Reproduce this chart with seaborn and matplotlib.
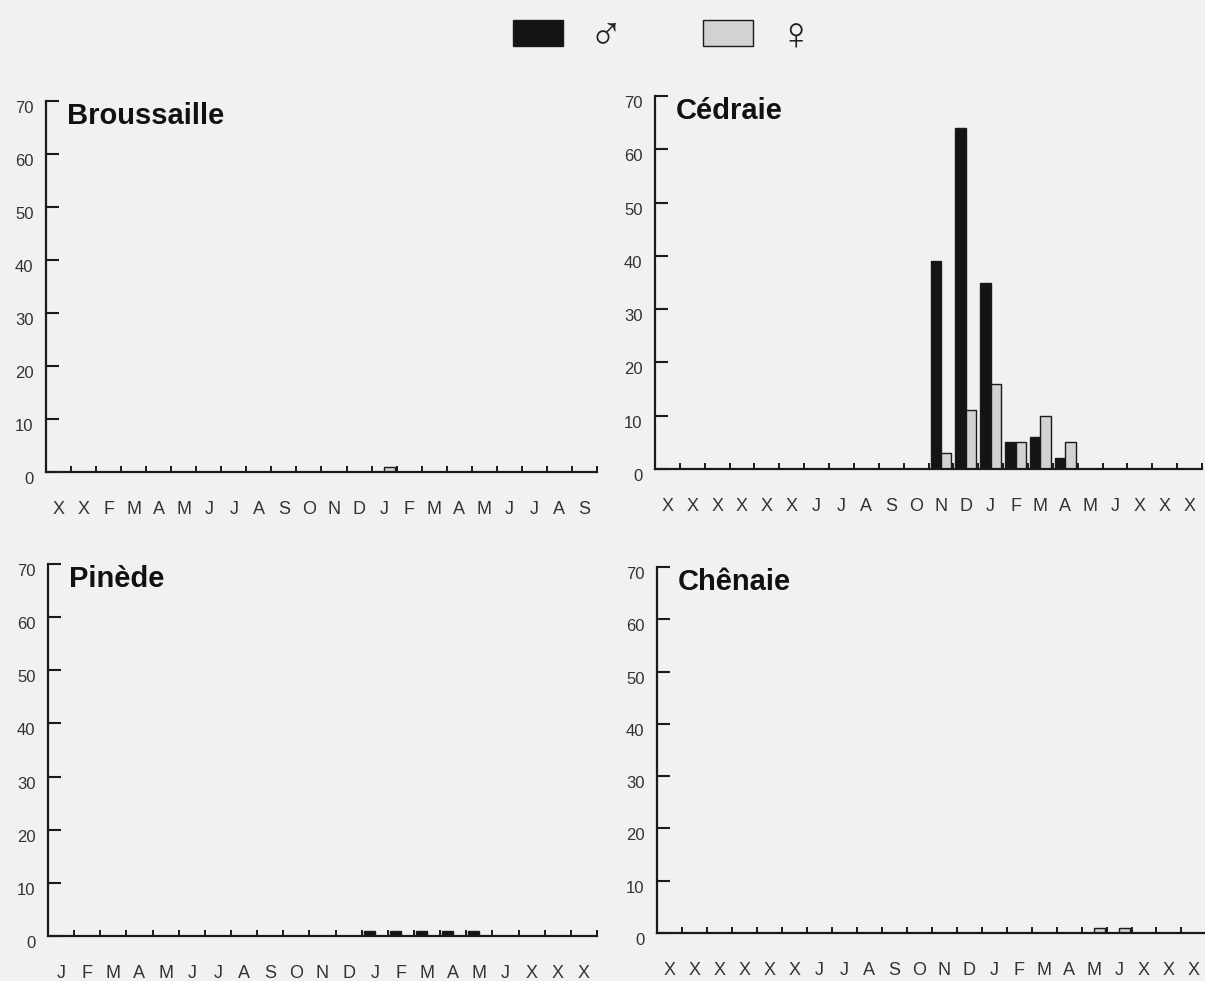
import numpy as np
import pandas as pd
import seaborn as sns
import matplotlib.pyplot as plt
import matplotlib.transforms as mtransforms
from matplotlib.patches import Patch
from matplotlib.ticker import FixedLocator

# month labels under each panel (X = month not sampled)
mois_broussaille = ["X", "X", "F", "M", "A", "M", "J", "J", "A", "S", "O",
                    "N", "D", "J", "F", "M", "A", "M", "J", "J", "A", "S"]
mois_cedraie = ["X", "X", "X", "X", "X", "X", "J", "J", "A", "S", "O",
                "N", "D", "J", "F", "M", "A", "M", "J", "X", "X", "X"]
mois_pinede = ["J", "F", "M", "A", "M", "J", "J", "A", "S", "O", "N",
               "D", "J", "F", "M", "A", "M", "J", "X", "X", "X"]
mois_chenaie = ["X", "X", "X", "X", "X", "X", "J", "J", "A", "S", "O",
                "N", "D", "J", "F", "M", "A", "M", "J", "X", "X", "X"]

# counts per month (males / females)
broussaille_m = [0, 0, 0, 0, 0, 0, 0, 0, 0, 0, 0, 0, 0, 0, 0, 0, 0, 0, 0, 0, 0, 0]
broussaille_f = [0, 0, 0, 0, 0, 0, 0, 0, 0, 0, 0, 0, 0, 1, 0, 0, 0, 0, 0, 0, 0, 0]
cedraie_m = [0, 0, 0, 0, 0, 0, 0, 0, 0, 0, 0, 39, 64, 35, 5, 6, 2, 0, 0, 0, 0, 0]
cedraie_f = [0, 0, 0, 0, 0, 0, 0, 0, 0, 0, 0, 3, 11, 16, 5, 10, 5, 0, 0, 0, 0, 0]
pinede_m = [0, 0, 0, 0, 0, 0, 0, 0, 0, 0, 0, 0, 1, 1, 1, 1, 1, 0, 0, 0, 0]
pinede_f = [0, 0, 0, 0, 0, 0, 0, 0, 0, 0, 0, 0, 0, 0, 0, 0, 0, 0, 0, 0, 0]
chenaie_m = [0, 0, 0, 0, 0, 0, 0, 0, 0, 0, 0, 0, 0, 0, 0, 0, 0, 0, 0, 0, 0, 0]
chenaie_f = [0, 0, 0, 0, 0, 0, 0, 0, 0, 0, 0, 0, 0, 0, 0, 0, 0, 1, 1, 0, 0, 0]

BG = "#f2f1ef"
NOIR = "#141414"
GRIS = "#d2d2d0"
INK = "#1a1a1a"

sns.set_style("ticks")
plt.rcParams["font.family"] = ["Liberation Sans", "DejaVu Sans"]

fig = plt.figure(figsize=(12.05, 9.81), dpi=100, facecolor=BG)


def panel(rect, titre, mois, males, femelles):
    ax = fig.add_axes(rect, facecolor=BG)
    n = len(mois)
    df = pd.DataFrame({
        "mois": list(range(n)) * 2,
        "sexe": ["m"] * n + ["f"] * n,
        "effectif": males + femelles,
    })
    sns.barplot(data=df, x="mois", y="effectif", hue="sexe", hue_order=["m", "f"],
                palette={"m": NOIR, "f": GRIS}, width=0.84, edgecolor=INK,
                linewidth=1.0, errorbar=None, legend=False, ax=ax)
    ax.set_xlim(-0.5, n - 0.5)
    ax.set_ylim(0, 70)
    ax.set_xlabel("")
    ax.set_ylabel("")
    sns.despine(ax=ax)
    for s in ["left", "bottom"]:
        ax.spines[s].set_linewidth(1.6)
        ax.spines[s].set_color(INK)

    ax.set_xticks(range(n))
    ax.set_xticklabels(mois)
    ax.xaxis.set_minor_locator(FixedLocator(np.arange(0.5, n, 1)))
    ax.tick_params(axis="x", which="major", length=0, pad=21,
                   labelsize=13, labelcolor="#333333")
    ax.tick_params(axis="x", which="minor", direction="in", length=4.5,
                   width=1.4, color=INK)
    ax.set_yticks(range(0, 80, 10))
    ax.tick_params(axis="y", direction="in", length=9, width=1.5, color=INK,
                   pad=9, labelsize=12, labelcolor="#333333")
    shift = mtransforms.ScaledTranslation(0, -0.06, fig.dpi_scale_trans)
    for lbl in ax.get_yticklabels():
        lbl.set_transform(lbl.get_transform() + shift)

    off = mtransforms.ScaledTranslation(0.21, -0.005, fig.dpi_scale_trans)
    ax.text(0, 1, titre, transform=ax.transAxes + off, ha="left", va="top",
            fontsize=21, fontweight="bold", color="#111111")
    return ax


panel([0.0382, 0.519, 0.4572, 0.378], "Broussaille", mois_broussaille,
      broussaille_m, broussaille_f)
panel([0.5436, 0.522, 0.4539, 0.380], "Cédraie", mois_cedraie,
      cedraie_m, cedraie_f)
panel([0.0398, 0.046, 0.4556, 0.379], "Pinède", mois_pinede,
      pinede_m, pinede_f)
panel([0.5452, 0.049, 0.4560, 0.373], "Chênaie", mois_chenaie,
      chenaie_m, chenaie_f)

handles = [Patch(facecolor=NOIR, edgecolor=INK), Patch(facecolor=GRIS, edgecolor=INK)]
fig.legend(handles=handles, labels=["♂", "♀"], loc="center",
           bbox_to_anchor=(0.550, 0.962), ncol=2, frameon=False, fontsize=33,
           handlelength=1.1, handleheight=0.52, handletextpad=0.55,
           columnspacing=1.75, labelcolor="#222222")

fig.savefig("out.png", dpi=100, facecolor=BG)
